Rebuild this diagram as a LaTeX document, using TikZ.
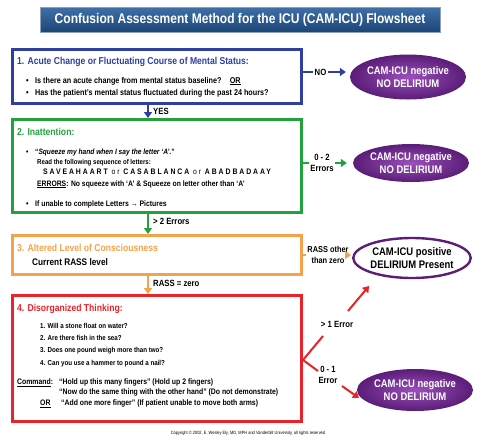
\documentclass[tikz,border=0pt]{standalone}
\usepackage{fontspec}
\setmainfont{Liberation Sans}[FakeStretch=0.86]
\usepackage{tikz}
\usetikzlibrary{arrows.meta,positioning,shapes.geometric}
\definecolor{camblue}{HTML}{2E3F9E}
\definecolor{camgreen}{HTML}{23A23C}
\definecolor{camorange}{HTML}{F5A34B}
\definecolor{camred}{HTML}{E8232A}
\definecolor{purpledark}{HTML}{5A1D78}
\definecolor{purplelight}{HTML}{9B4FBA}
\definecolor{titletop}{HTML}{3F70A8}
\definecolor{titlebottom}{HTML}{1C4576}
\newcommand{\camdot}{\makebox[9pt][l]{\textbullet}}
\tikzset{
  %Define standard arrow tip
  >={Triangle[length=6pt,width=8pt]},
  %Define style for the step boxes
  stepbox/.style={
    rectangle,
    draw=#1, line width=2.6pt,
    anchor=north west,
    minimum width=289pt,
    inner sep=0pt},
  % Box heading and body text
  head/.style={anchor=base west, inner sep=0pt, text=#1,
    font=\fontsize{10}{11}\selectfont\bfseries},
  body/.style={anchor=base west, inner sep=0pt,
    font=\fontsize{#1}{#1}\selectfont\bfseries},
  body/.default=8,
  % Result ellipses
  verdict/.style={
    ellipse, inner sep=0pt,
    shading=radial, inner color=purplelight, outer color=purpledark,
    text=white, align=center,
    font=\fontsize{11}{12.5}\selectfont\bfseries},
  positive/.style={
    ellipse, inner sep=0pt,
    draw=purpledark, line width=2.4pt, fill=white,
    align=center,
    font=\fontsize{11}{12.5}\selectfont\bfseries},
  % Labels on the links
  tag/.style={inner sep=1pt, align=center,
    font=\fontsize{9}{10.5}\selectfont\bfseries},
  % Define arrow style
  link/.style={draw=#1, line width=2.6pt},
  redlink/.style={draw=camred, line width=2pt}
}
\begin{document}
\begin{tikzpicture}[x=1pt,y=-1pt]
\fill[white] (0,0) rectangle (483,440);
\useasboundingbox (0,0) rectangle (483,440);

\node[minimum width=400pt, minimum height=25pt,
  top color=titletop, bottom color=titlebottom, draw=titlebottom!50,
  text=white, font=\fontsize{14}{16}\selectfont\bfseries]
  (title) at (240,19.5) {Confusion Assessment Method for the ICU (CAM-ICU) Flowsheet};

% step boxes
\node[stepbox=camblue, minimum height=54pt] (acute) at (11,48) {};
\node[stepbox=camgreen, minimum height=93pt] (inatt) at (11,118) {};
\node[stepbox=camorange, minimum height=39pt] (rass) at (11,234) {};
\node[stepbox=camred, minimum height=126pt] (think) at (11,294) {};

% 1.
\node[head=camblue] (acutehead) at (17,64.5) {1. Acute Change or Fluctuating Course of Mental Status:};
\node[body=8.4] (acuteq1) at (26,83) {\camdot Is there an acute change from mental status baseline?\quad\underline{OR}};
\node[body=8.4] (acuteq2) at (26,95) {\camdot Has the patient’s mental status fluctuated during the past 24 hours?};

% 2.
\node[head=camgreen] (inatthead) at (17,135.5) {2. Inattention:};
\node[body=7.7] (inattq1) at (26,154.5) {\camdot “\textit{Squeeze my hand when I say the letter ‘A’.}”};
\node[body=7.1] (inattread) at (37,164.5) {Read the following sequence of letters:};
\node[body, font=\fontsize{8}{9}\selectfont\bfseries\addfontfeature{LetterSpace=24}]
  (inattletters) at (43,174.5) {SAVEAHAART {\mdseries or} CASABLANCA {\mdseries or} ABADBADAAY};
\node[body=7.9] (inatterr) at (37,186) {\underline{ERRORS}: No squeeze with ‘A’ \& Squeeze on letter other than ‘A’};
\node[body=8] (inattpic) at (26,206) {\camdot If unable to complete Letters → Pictures};

% 3.
\node[head=camorange] (rasshead) at (17,251.5) {3. Altered Level of Consciousness};
\node[body=9.6] (rasslevel) at (32,265.5) {Current RASS level};

% 4.
\node[head=camred] (thinkhead) at (17,311.5) {4. Disorganized Thinking:};
\foreach \q/\y [count=\i] in {Will a stone float on water?/328, Are there fish in the sea?/340,
    Does one pound weigh more than two?/352, Can you use a hammer to pound a nail?/365}
  \node[body=7.2] (thinkq\i) at (40,\y) {\i. \q};
\node[body] (cmd) at (17,384.5) {\underline{Command}:};
\node[body] (cmd1) at (59,384.5) {“Hold up this many fingers” (Hold up 2 fingers)};
\node[body] (cmd2) at (59,394.5) {“Now do the same thing with the other hand” (Do not demonstrate)};
\node[body] (cmdor) at (40,405.5) {\underline{OR}};
\node[body] (cmd3) at (61,405.5) {“Add one more finger” (If patient unable to move both arms)};

% results
\node[verdict, minimum width=99pt, minimum height=45pt] (neg1) at (408,77) {CAM-ICU negative\\NO DELIRIUM};
\node[verdict, minimum width=100pt, minimum height=38pt] (neg2) at (411,163) {CAM-ICU negative\\NO DELIRIUM};
\node[positive, minimum width=94pt, minimum height=40pt] (pos) at (412,258) {CAM-ICU positive\\DELIRIUM Present};
\node[verdict, minimum width=104pt, minimum height=42pt] (neg3) at (415,390) {CAM-ICU negative\\NO DELIRIUM};

% labels
\node[tag] (no) at (320.5,72) {NO};
\node[tag, anchor=west] (yes) at (152,111) {YES};
\node[tag] (errs02) at (322,163) {0 - 2\\Errors};
\node[tag, anchor=west] (errsgt2) at (152,221) {> 2 Errors};
\node[tag, font=\fontsize{8.6}{10.5}\selectfont\bfseries] (rassother) at (328,255) {RASS other\\than zero};
\node[tag, anchor=west] (rasszero) at (152,283) {RASS = zero};
\node[tag] (errsgt1) at (337,324) {> 1 Error};
\node[tag] (errs01) at (328,375) {0 - 1\\Error};
\node[font=\fontsize{4.6}{5}\selectfont] (copy) at (248,433)
  {Copyright © 2002, E. Wesley Ely, MD, MPH and Vanderbilt University, all rights reserved};

% links
\coordinate (spine) at (148,0);
\draw[link=camblue] (acute.east |- no.west) -- (no.west);
\draw[link=camblue,->,shorten >=4pt] (no.east) -- (no.east -| neg1.west);
\draw[link=camblue,->] (acute.south -| spine) -- (inatt.north -| spine);
\draw[link=camgreen] (inatt.east |- errs02.west) -- (errs02.west);
\draw[link=camgreen,->,shorten >=6pt] (errs02.east) -- (errs02.east -| neg2.west);
\draw[link=camgreen,->] (inatt.south -| spine) -- (rass.north -| spine);
\draw[link=camorange] (rass.east |- rassother.west) -- (rassother.west);
\draw[link=camorange,->,shorten >=1pt] (rassother.east) -- (rassother.east -| pos.west);
\draw[link=camorange,->] (rass.south -| spine) -- (think.north -| spine);
\coordinate (fork) at (303,360);
\coordinate (forkup) at (323,336);
\coordinate (forkdown) at (318,371);
\coordinate (uptail) at (348,311);
\coordinate (uptip) at (369,286);
\coordinate (downtail) at (342,386);
\coordinate (downtip) at (359,398);
\draw[redlink] (think.east |- fork) -- (fork) -- (forkup) (fork) -- (forkdown);
\draw[redlink,->] (uptail) -- (uptip);
\draw[redlink,->] (downtail) -- (downtip);
\end{tikzpicture}
\end{document}
